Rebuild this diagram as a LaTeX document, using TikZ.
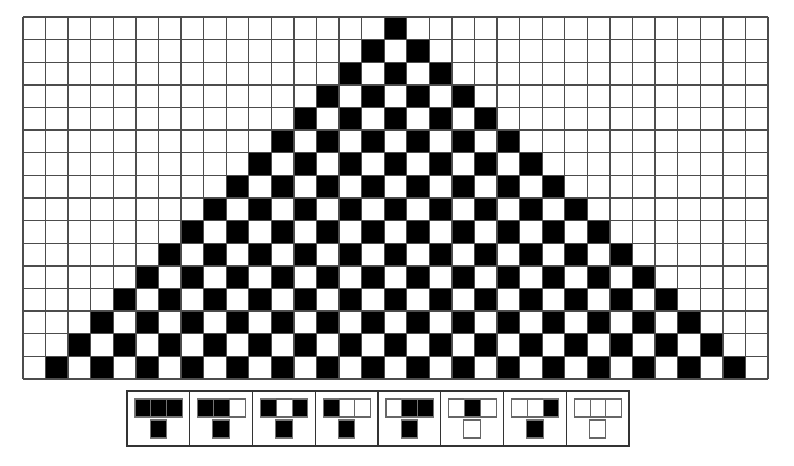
\documentclass[tikz,border=0pt]{standalone}
\begin{document}
\begin{tikzpicture}[x=0.75pt,y=-0.75pt,
  gridline/.style={draw=black!70, line width=1pt},
  onecell/.style={fill=black, draw=black!55, line width=0.8pt},
  zerocell/.style={fill=white, draw=black!60, line width=0.8pt},
  rulebox/.style={draw=black!80, line width=1pt}]
\useasboundingbox (0,0) rectangle (794,466);
\pgfmathsetmacro\cw{745/33}
\pgfmathsetmacro\ch{362/16}
\foreach \r in {0,...,15}{
  \foreach \c in {0,...,32}{
    \pgfmathtruncatemacro\d{abs(\c-16)}
    \pgfmathtruncatemacro\on{((\d<=\r) && (mod(\r-\d+40,2)==0)) ? 1 : 0}
    \ifnum\on=1 \fill (23+\c*\cw, 17+\r*\ch) rectangle ++(\cw,\ch); \fi
  }
}
\foreach \c in {0,...,33} \draw[gridline] (23+\c*\cw,17) -- (23+\c*\cw,379);
\foreach \r in {0,...,16} \draw[gridline] (23,17+\r*\ch) -- (768,17+\r*\ch);
% rule icons (rule 250)
\pgfmathsetmacro\bw{502/8}
\foreach \a/\b/\cc/\o [count=\i from 0] in {1/1/1/1,1/1/0/1,1/0/1/1,1/0/0/1,0/1/1/1,0/1/0/0,0/0/1/1,0/0/0/0}{
  \pgfmathsetmacro\bx{127+\i*\bw}
  \draw[rulebox] (\bx,391) rectangle ++(\bw,55);
  \foreach \v [count=\k from 0] in {\a,\b,\cc}{
    \ifnum\v=1 \path[onecell] (\bx+8+\k*15.8,399) rectangle ++(15.8,18);
    \else \path[zerocell] (\bx+8+\k*15.8,399) rectangle ++(15.8,18); \fi
  }
  \ifnum\o=1 \path[onecell] (\bx+\bw/2-8.2,420) rectangle ++(16.4,18);
  \else \path[zerocell] (\bx+\bw/2-8.2,420) rectangle ++(16.4,18); \fi
}
\end{tikzpicture}
\end{document}
